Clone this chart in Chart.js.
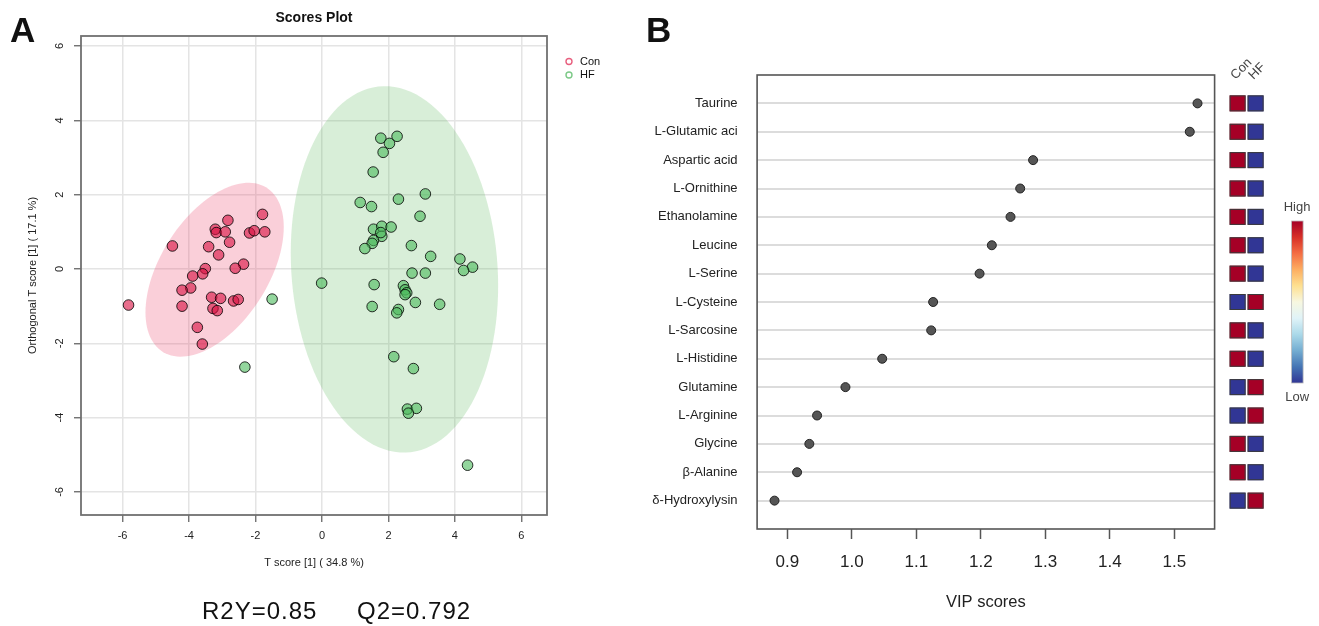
<!DOCTYPE html>
<html>
<head>
<meta charset="utf-8">
<script src="https://cdn.jsdelivr.net/npm/chart.js@4.4.1/dist/chart.umd.min.js"></script>
<style>
  body { margin: 0; background: #fff; }
  #wrap { position: relative; width: 1319px; height: 626px; font-family: Arial, "Liberation Sans", sans-serif; color: #111; }
  #chartA { position: absolute; left: 0; top: 0; }
  #chartB { position: absolute; left: 640px; top: 0; }
  .letter { position: absolute; font-weight: bold; font-size: 35px; line-height: 35px; }
  .stat { position: absolute; top: 599px; font-size: 24px; line-height: 24px; letter-spacing: 1px; white-space: pre; }
</style>
</head>
<body>
<div id="wrap">
  <canvas id="chartA" width="640" height="626"></canvas>
  <canvas id="chartB" width="679" height="626"></canvas>
  <div class="letter" style="left:10px; top:12px;">A</div>
  <div class="letter" style="left:646px; top:12px;">B</div>
  <div class="stat" style="left:202px;">R2Y=0.85</div>
  <div class="stat" style="left:357px;">Q2=0.792</div>
</div>
<script>
Chart.defaults.font.family = 'Arial, "Liberation Sans", sans-serif';

// ---- panel A : OPLS-DA scores ----
var conX = [-4.50, -3.21, -3.18, -2.91, -2.83, -2.78, -3.41, -3.11, -2.18, -2.04, -1.72, -1.79, -3.51, -3.59, -3.89,
            -2.36, -2.61, -3.95, -4.21, -3.32, -3.05, -2.66, -2.52, -4.21, -3.28, -3.15, -5.82, -3.75, -3.60];
var conY = [0.62, 1.07, 0.98, 1.00, 1.31, 0.72, 0.60, 0.38, 0.97, 1.03, 1.00, 1.47, 0.01, -0.13, -0.19,
            0.13, 0.02, -0.51, -0.57, -0.76, -0.79, -0.86, -0.82, -1.00, -1.06, -1.12, -0.97, -1.57, -2.02];
var hfX = [1.77, 2.26, 2.03, 1.84, 1.54, 3.11, 2.30, 1.15, 1.49, 2.95, 1.55, 1.80, 2.08, 1.80, 1.77,
           1.55, 1.51, 1.29, 2.69, 3.27, 4.15, 4.53, 4.26, 2.71, 3.11, -0.01, 1.57, 2.45, 2.50, 2.55,
           2.50, 2.81, 3.54, 1.51, 2.30, 2.25, -1.50, 2.16, 2.75, 2.57, 2.84, 2.60, -2.32, 4.38];
var hfY = [3.52, 3.57, 3.38, 3.14, 2.61, 2.02, 1.88, 1.79, 1.68, 1.42, 1.07, 1.15, 1.13, 0.88, 0.98,
           0.77, 0.69, 0.55, 0.63, 0.34, 0.27, 0.05, -0.04, -0.11, -0.11, -0.38, -0.42, -0.45, -0.56, -0.64,
           -0.69, -0.90, -0.95, -1.01, -1.09, -1.18, -0.81, -2.36, -2.68, -3.77, -3.75, -3.88, -2.64, -5.28];
var xTicksA = [-6, -4, -2, 0, 2, 4, 6];
var yTicksA = [-6, -4, -2, 0, 2, 4, 6];
// ellipses: centre x, centre y, half width, half height, correlation
var conEllipse = [-3.23, -0.02, 2.08, 2.34, 0.49];
var hfEllipse = [2.18, -0.01, 3.12, 4.93, -0.09];

// ---- panel B : VIP scores ----
var metabolites = ['Taurine', 'L-Glutamic aci', 'Aspartic acid', 'L-Ornithine', 'Ethanolamine', 'Leucine', 'L-Serine',
                   'L-Cysteine', 'L-Sarcosine', 'L-Histidine', 'Glutamine', 'L-Arginine', 'Glycine', 'β-Alanine', 'δ-Hydroxylysin'];
var vipScores = [1.536, 1.524, 1.281, 1.261, 1.246, 1.217, 1.198, 1.126, 1.123, 1.047, 0.990, 0.946, 0.934, 0.915, 0.880];
var conHigh = [1, 1, 1, 1, 1, 1, 1, 0, 1, 1, 0, 0, 1, 1, 0];   // 1 = Con high / HF low
var xTicksB = [0.9, 1.0, 1.1, 1.2, 1.3, 1.4, 1.5];
var groups = ['Con', 'HF'];

var RED = '#A50026', BLUE = '#313695';

function toPoints(xs, ys) {
  return xs.map(function (x, i) { return { x: x, y: ys[i] }; });
}

var ellipsePlugin = {
  id: 'ellipses',
  beforeDatasetsDraw(chart) {
    var ctx = chart.ctx, xs = chart.scales.x, ys = chart.scales.y, a = chart.chartArea;
    ctx.save();
    ctx.beginPath();
    ctx.rect(a.left, a.top, a.right - a.left, a.bottom - a.top);
    ctx.clip();
    [[conEllipse, 'rgba(235,70,110,0.26)'], [hfEllipse, 'rgba(90,185,90,0.24)']].forEach(function (e) {
      var p = e[0];
      ctx.beginPath();
      for (var k = 0; k <= 120; k++) {
        var t = k / 120 * Math.PI * 2;
        var dx = p[2] * Math.cos(t);
        var dy = p[4] * p[3] * Math.cos(t) + p[3] * Math.sqrt(1 - p[4] * p[4]) * Math.sin(t);
        var px = xs.getPixelForValue(p[0] + dx), py = ys.getPixelForValue(p[1] + dy);
        if (k) ctx.lineTo(px, py); else ctx.moveTo(px, py);
      }
      ctx.closePath();
      ctx.fillStyle = e[1];
      ctx.fill();
    });
    ctx.restore();
  }
};

var frameA = {
  id: 'frameA',
  afterDraw(chart) {
    var ctx = chart.ctx, a = chart.chartArea;
    ctx.save();
    ctx.strokeStyle = '#707070';
    ctx.lineWidth = 1.8;
    ctx.strokeRect(a.left, a.top, a.right - a.left, a.bottom - a.top);
    // title
    ctx.fillStyle = '#111';
    ctx.font = 'bold 14px Arial, "Liberation Sans", sans-serif';
    ctx.textAlign = 'center';
    ctx.textBaseline = 'middle';
    ctx.fillText('Scores Plot', (a.left + a.right) / 2, 18);
    // legend
    var cols = ['#e8607f', '#7cc987'];
    ctx.font = '11px Arial, "Liberation Sans", sans-serif';
    ctx.textAlign = 'left';
    chart.data.datasets.forEach(function (ds, i) {
      var y = 61.5 + i * 13.5;
      ctx.beginPath();
      ctx.arc(a.right + 22, y, 3, 0, Math.PI * 2);
      ctx.strokeStyle = cols[i];
      ctx.lineWidth = 1.4;
      ctx.stroke();
      ctx.fillStyle = '#111';
      ctx.fillText(ds.label, a.right + 33, y);
    });
    ctx.restore();
  }
};

var gridA = { color: '#e4e4e4', lineWidth: 1.5, tickColor: '#666', tickLength: 7, tickWidth: 1.3 };

var scoreChart = new Chart(document.getElementById('chartA'), {
  type: 'scatter',
  data: {
    datasets: [
      { label: 'Con', data: toPoints(conX, conY), backgroundColor: 'rgba(217,13,63,0.6)',
        borderColor: 'rgba(0,0,0,0.8)', borderWidth: 1, pointRadius: 5.3 },
      { label: 'HF', data: toPoints(hfX, hfY), backgroundColor: 'rgba(75,187,92,0.6)',
        borderColor: 'rgba(0,0,0,0.8)', borderWidth: 1, pointRadius: 5.3 }
    ]
  },
  options: {
    responsive: false,
    animation: false,
    layout: { padding: { top: 36, right: 93, left: 0, bottom: 0 } },
    plugins: { legend: { display: false }, tooltip: { enabled: false } },
    scales: {
      x: {
        type: 'linear', min: -7.25, max: 6.77,
        afterBuildTicks: function (s) { s.ticks = xTicksA.map(function (v) { return { value: v }; }); },
        afterFit: function (s) { s.height = 111; },
        grid: gridA,
        border: { display: false },
        ticks: { color: '#222', font: { size: 11 }, padding: 7, maxRotation: 0 },
        title: { display: true, text: 'T score [1] ( 34.8 %)', color: '#222', font: { size: 11 }, padding: { top: 0, bottom: 56 } }
      },
      y: {
        type: 'linear', min: -6.62, max: 6.27,
        afterBuildTicks: function (s) { s.ticks = yTicksA.map(function (v) { return { value: v }; }); },
        afterFit: function (s) { s.width = 81; },
        grid: gridA,
        border: { display: false },
        ticks: { color: '#222', font: { size: 11 }, padding: 9, minRotation: 90, maxRotation: 90, crossAlign: 'center' },
        title: { display: true, text: 'Orthogonal T score [1] ( 17.1 %)', color: '#222', font: { size: 11 }, padding: { top: 26, bottom: 0 } }
      }
    }
  },
  plugins: [ellipsePlugin, frameA]
});

// heatmap squares, group labels, colour key and frame for panel B
var heatmapPlugin = {
  id: 'heatmap',
  afterDraw(chart) {
    var ctx = chart.ctx, a = chart.chartArea, ys = chart.scales.y;
    ctx.save();
    ctx.strokeStyle = '#555';
    ctx.lineWidth = 1.6;
    ctx.strokeRect(a.left, a.top, a.right - a.left, a.bottom - a.top);

    var colX = [a.right + 15, a.right + 33];
    metabolites.forEach(function (m, i) {
      var cy = ys.getPixelForValue(i);
      var cols = conHigh[i] ? [RED, BLUE] : [BLUE, RED];
      for (var j = 0; j < 2; j++) {
        ctx.fillStyle = cols[j];
        ctx.fillRect(colX[j], cy - 8, 16, 16);
        ctx.strokeStyle = '#3a3a3a';
        ctx.lineWidth = 1;
        ctx.strokeRect(colX[j] + 0.5, cy - 7.5, 15, 15);
      }
    });

    ctx.fillStyle = '#444';
    ctx.font = '13px Arial, "Liberation Sans", sans-serif';
    ctx.textAlign = 'left';
    ctx.textBaseline = 'alphabetic';
    groups.forEach(function (g, j) {
      ctx.save();
      ctx.translate(colX[j] + 6, 80);
      ctx.rotate(-Math.PI / 4);
      ctx.fillText(g, 0, 0);
      ctx.restore();
    });

    // colour key
    var kx = a.right + 77, top = 221, bot = 383;
    var grad = ctx.createLinearGradient(0, top, 0, bot);
    ['#A50026', '#D73027', '#F46D43', '#FDAE61', '#FEE090', '#F7F7E0', '#E0F3F8', '#ABD9E9', '#74ADD1', '#4575B4', '#313695']
      .forEach(function (c, i, arr) { grad.addColorStop(i / (arr.length - 1), c); });
    ctx.fillStyle = grad;
    ctx.fillRect(kx, top, 11.5, bot - top);
    ctx.strokeStyle = '#bbb';
    ctx.lineWidth = 0.8;
    ctx.strokeRect(kx, top, 11.5, bot - top);
    ctx.fillStyle = '#444';
    ctx.textAlign = 'center';
    ctx.textBaseline = 'middle';
    ctx.fillText('High', kx + 5.5, 207);
    ctx.fillText('Low', kx + 5.5, 397);
    ctx.restore();
  }
};

var vipChart = new Chart(document.getElementById('chartB'), {
  type: 'scatter',
  data: {
    datasets: [{
      label: 'VIP', data: vipScores.map(function (v, i) { return { x: v, y: i }; }),
      backgroundColor: '#555', borderColor: '#222', borderWidth: 1, pointRadius: 4.5
    }]
  },
  options: {
    responsive: false,
    animation: false,
    layout: { padding: { top: 75, right: 104.4, left: 0, bottom: 0 } },
    plugins: { legend: { display: false }, tooltip: { enabled: false } },
    scales: {
      x: {
        type: 'linear', min: 0.853, max: 1.5625,
        afterBuildTicks: function (s) { s.ticks = xTicksB.map(function (v) { return { value: v }; }); },
        afterFit: function (s) { s.height = 97; },
        grid: { drawOnChartArea: false, tickLength: 10, tickColor: '#555', tickWidth: 1.5 },
        border: { display: false },
        ticks: { color: '#222', font: { size: 17 }, padding: 13.5, maxRotation: 0,
                 callback: function (v) { return v.toFixed(1); } },
        title: { display: true, text: 'VIP scores', color: '#222', font: { size: 16.5 }, padding: { top: 0, bottom: 14 } }
      },
      y: {
        type: 'linear', reverse: true, min: -1, max: 15,
        afterBuildTicks: function (s) { s.ticks = metabolites.map(function (m, i) { return { value: i }; }); },
        afterFit: function (s) { s.width = 117.1; },
        grid: { color: '#dcdcdc', lineWidth: 2, drawTicks: false },
        border: { display: false },
        ticks: { color: '#222', font: { size: 13 }, padding: 19.5,
                 callback: function (v) { return metabolites[v]; } }
      }
    }
  },
  plugins: [heatmapPlugin]
});
</script>
</body>
</html>
